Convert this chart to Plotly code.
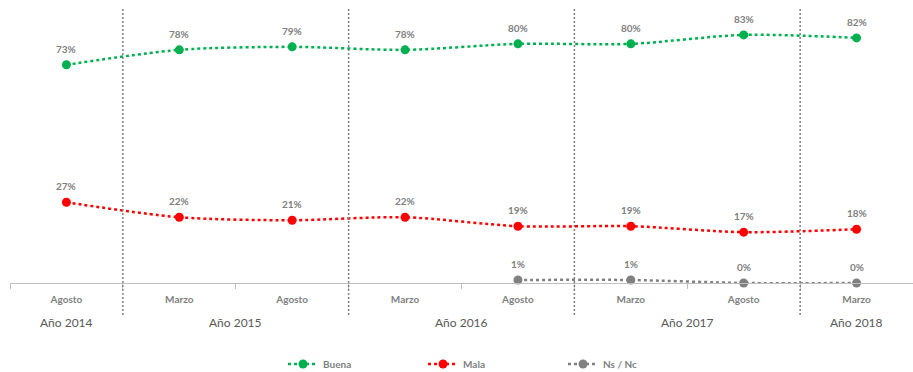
import plotly.graph_objects as go

categories = ["Agosto", "Marzo", "Agosto", "Marzo", "Agosto", "Marzo", "Agosto", "Marzo"]
years = ["Año 2014", "Año 2015", "Año 2016", "Año 2017", "Año 2018"]
year_pos = [0, 1.5, 3.5, 5.5, 7]
separators = [0.5, 2.5, 4.5, 6.5]

buena = [73, 78, 79, 78, 80, 80, 83, 82]
mala = [27, 22, 21, 22, 19, 19, 17, 18]
nsnc_x = [4, 5, 6, 7]
nsnc = [1, 1, 0, 0]

FONT = "Lato"
x = list(range(len(categories)))

fig = go.Figure()

def add(name, xs, ys, color):
    fig.add_trace(go.Scatter(
        x=xs, y=ys, name=name, mode="lines+markers",
        line=dict(color=color, width=2.5, dash="dot", shape="spline", smoothing=0.8),
        marker=dict(color=color, size=9),
        cliponaxis=False,
    ))
    for xv, yv in zip(xs, ys):
        fig.add_annotation(x=xv, y=yv, xref="x", yref="y", text=f"{yv}%", showarrow=False,
                           yanchor="bottom", yshift=8,
                           font=dict(family=FONT, size=10, color="#808080", weight="bold"))

add("Buena", x, buena, "#00B050")
add("Mala", x, mala, "#FF0000")
add("Ns / Nc", nsnc_x, nsnc, "#808080")

for s in separators:
    fig.add_shape(type="line", xref="x", yref="paper", x0=s, x1=s, y0=-0.116, y1=1.0,
                  line=dict(color="#7F7F7F", width=1.5, dash="2px,2px"))

for yr, p in zip(years, year_pos):
    fig.add_annotation(x=p, xref="x", y=-0.145, yref="paper", text=yr, showarrow=False,
                       yanchor="middle", font=dict(family=FONT, size=12, color="#595959"))

fig.update_layout(
    width=913, height=372,
    margin=dict(l=10, r=0, t=8, b=89, autoexpand=False),
    paper_bgcolor="white", plot_bgcolor="white",
    showlegend=True,
    legend=dict(orientation="h", xref="container", yref="container",
                x=0.31, xanchor="left", y=0.0215, yanchor="middle",
                font=dict(family=FONT, size=10, color="#808080", weight="bold"),
                entrywidth=95, itemwidth=30),
    xaxis=dict(
        range=[-0.5, 7.5], tickmode="array", tickvals=x, ticktext=categories,
        ticks="", showgrid=False, zeroline=False, ticklabelstandoff=7,
        showline=True, linecolor="#BFBFBF", linewidth=1,
        tickfont=dict(family=FONT, size=10, color="#808080", weight="bold"),
        minor=dict(tick0=-0.5, dtick=1, ticks="outside", ticklen=5, tickcolor="#BFBFBF", showgrid=False),
    ),
    yaxis=dict(range=[0, 92], visible=False, showgrid=False, zeroline=False),
)

fig.write_html("out.html")
